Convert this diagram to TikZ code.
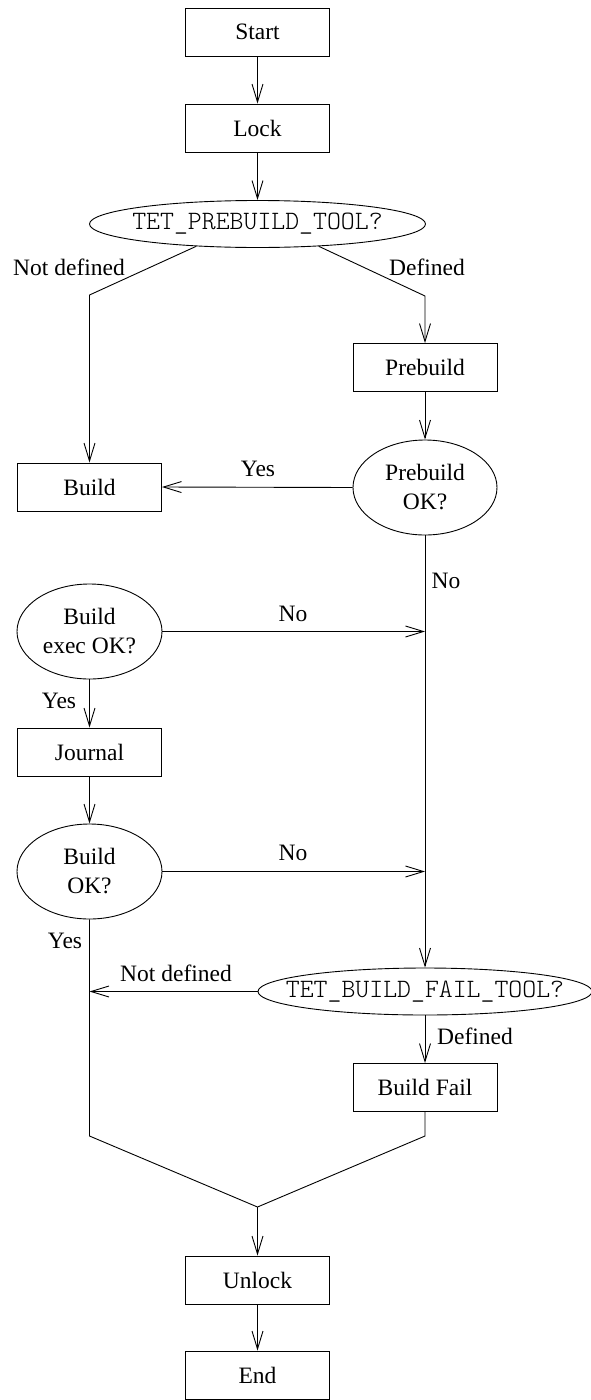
\documentclass[tikz,border=0pt]{standalone}
\usepackage{fontspec}
\setmainfont{Liberation Serif}
\newfontfamily\lmlight{lmmonolt10-regular.otf}
\usetikzlibrary{shapes.geometric,arrows.meta}
\begin{document}
\begin{tikzpicture}[x=1pt,y=-1pt,
  every node/.style={font=\fontsize{23.5}{29}\selectfont, inner sep=0pt},
  mono/.style={font=\fontsize{26.5}{29}\lmlight},
  box/.style={draw, rectangle, minimum width=144pt, minimum height=48pt, line width=0.9pt},
  oval/.style={draw, ellipse, line width=0.9pt, align=center},
  lbl/.style={},
  conn/.style={line width=0.9pt},
  arr/.style={conn, -{Straight Barb[length=18pt,width=11pt]}}]
\useasboundingbox (0,0) rectangle (590,1400);

% nodes
\node[box] (start) at (257.5,32) {Start};
\node[box] (lock) at (257.5,128) {Lock};
\node[oval, mono, minimum width=336pt, minimum height=47pt] (q1) at (257.5,224) {\makebox[0pt]{TET\_PREBUILD\_TOOL?}};
\node[box] (prebuild) at (425,367.5) {Prebuild};
\node[oval, minimum width=144pt, minimum height=95pt] (pbok) at (425,487.5) {Prebuild\\OK?};
\node[box] (build) at (89.5,487) {Build};
\node[oval, minimum width=145pt, minimum height=95pt] (bexec) at (89.5,631.5) {Build\\exec OK?};
\node[box] (journal) at (89.5,752) {Journal};
\node[oval, minimum width=145pt, minimum height=95pt] (bok) at (89.5,871.5) {Build\\OK?};
\node[oval, mono, minimum width=334pt, minimum height=47pt] (q2) at (425,991.5) {\makebox[0pt]{TET\_BUILD\_FAIL\_TOOL?}};
\node[box] (bfail) at (425,1087.5) {Build Fail};
\node[box] (unlock) at (257.5,1280) {Unlock};
\node[box] (end) at (257.5,1375) {End};

% labels
\node[lbl] (l1) at (69,267) {Not defined};
\node[lbl] (l2) at (427,267) {Defined};
\node[lbl] (l3) at (258,469) {Yes};
\node[lbl] (l4) at (446,581) {No};
\node[lbl] (l5) at (293,614) {No};
\node[lbl] (l6) at (59,701) {Yes};
\node[lbl] (l7) at (293,853) {No};
\node[lbl] (l8) at (65,941) {Yes};
\node[lbl] (l9) at (176,973) {Not defined};
\node[lbl] (l10) at (475,1036) {Defined};

% helper coordinates
\coordinate (c1) at (89.5,295);
\coordinate (c2) at (425,296);
\coordinate (j1) at (425,631.5);
\coordinate (j2) at (425,871.5);
\coordinate (j3) at (89.5,991.5);
\coordinate (c3) at (89.5,1136);
\coordinate (c4) at (425,1136);
\coordinate (m) at (257.5,1207);

% connectors
\draw[arr] (start) -- (lock);
\draw[arr] (lock) -- (q1);
\draw[arr] (q1.200) -- (c1) -- (build.north);
\draw[arr] (q1.340) -- (c2) -- (prebuild.north);
\draw[arr] (prebuild) -- (pbok);
\draw[arr] (pbok.west) -- (build.east);
\draw[arr] (pbok.south) -- (q2.north);
\draw[arr] (bexec.east) -- (j1);
\draw[arr] (bexec) -- (journal);
\draw[arr] (journal) -- (bok);
\draw[arr] (bok.east) -- (j2);
\draw[conn] (bok.south) -- (c3) -- (m);
\draw[arr] (q2.west) -- (j3);
\draw[arr] (q2) -- (bfail);
\draw[conn] (bfail.south) -- (c4) -- (m);
\draw[arr] (m) -- (unlock.north);
\draw[arr] (unlock) -- (end);
\end{tikzpicture}
\end{document}
